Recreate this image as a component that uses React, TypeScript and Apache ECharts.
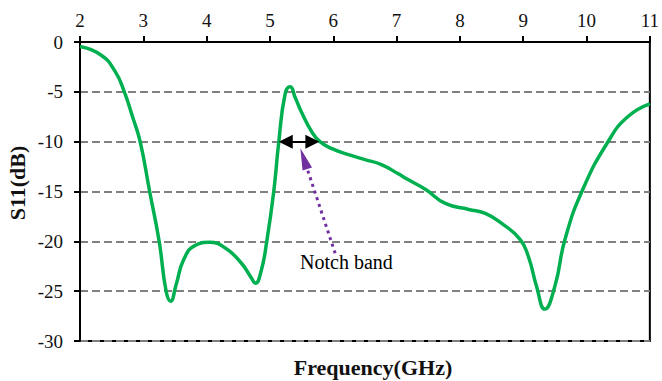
import React, { useEffect, useRef } from "react";
import * as echarts from "echarts";

const freqGHz = [2.0, 2.33, 2.55, 2.7, 2.83, 2.95, 3.1, 3.25, 3.36, 3.43, 3.52, 3.64, 3.82, 4.05, 4.3, 4.55, 4.7, 4.77, 4.86, 4.95, 5.06, 5.14, 5.24, 5.32, 5.4, 5.51, 5.66, 5.79, 5.98, 6.24, 6.5, 6.76, 7.02, 7.18, 7.46, 7.77, 8.14, 8.4, 8.66, 8.95, 9.08, 9.21, 9.34, 9.5, 9.66, 9.94, 10.34, 10.65, 11.0];
const s11dB = [-0.45, -1.3, -2.9, -5.0, -7.5, -10, -15, -20, -25, -26.0, -24.3, -21.8, -20.4, -20.1, -20.7, -22.2, -23.6, -24.2, -23.0, -20.0, -15, -10, -5.2, -4.5, -5.6, -7.2, -9, -10, -10.7, -11.3, -11.8, -12.3, -13.2, -13.8, -14.8, -16.2, -16.8, -17.2, -18.2, -19.8, -21.5, -24.5, -26.8, -24.5, -19.8, -14.8, -10, -7.5, -6.2];

const xTicks = { min: 2, max: 11, step: 1 };
const yTicks = { min: -30, max: 0, step: 5 };

const notchBandFrom = [5.25, -10];
const notchBandTo = [5.67, -10];
const pointerStart = [6.03, -21.2];
const pointerEnd = [5.535, -11.7];

const SERIF = "Liberation Serif";

export default function App() {
  const ref = useRef<HTMLDivElement>(null);
  useEffect(() => {
    document.body.style.margin = "0";
    const chart = echarts.init(ref.current!, null, { renderer: "svg" });
    const data = freqGHz.map((f, i) => [f, s11dB[i]]);
    chart.setOption({
      animation: false,
      backgroundColor: "#fff",
      textStyle: { fontFamily: SERIF },
      grid: {
        left: 80,
        right: 8,
        top: 42,
        bottom: 40,
        show: true,
        borderColor: "#000",
        borderWidth: 2,
        backgroundColor: "transparent",
      },
      xAxis: {
        type: "value",
        position: "top",
        min: xTicks.min,
        max: xTicks.max,
        interval: xTicks.step,
        axisLine: { show: true, onZero: false, lineStyle: { color: "#000", width: 2 } },
        axisTick: { show: true, inside: false, length: 6, lineStyle: { color: "#000", width: 2 } },
        axisLabel: { color: "#111", fontFamily: SERIF, fontSize: 19, margin: 12, showMaxLabel: true, showMinLabel: true },
        splitLine: { show: false },
      },
      yAxis: {
        type: "value",
        min: yTicks.min,
        max: yTicks.max,
        interval: yTicks.step,
        axisLine: { show: true, onZero: false, lineStyle: { color: "#000", width: 2 } },
        axisTick: { show: true, inside: false, length: 6, lineStyle: { color: "#000", width: 2 } },
        axisLabel: { color: "#111", fontFamily: SERIF, fontSize: 19, margin: 17 },
        splitLine: { show: true, lineStyle: { color: "#808080", width: 2, type: [8, 4] } },
      },
      series: [
        {
          type: "line",
          data,
          smooth: 0.5,
          showSymbol: false,
          symbol: "none",
          lineStyle: { color: "#00B050", width: 3.5 },
          z: 3,
          markLine: {
            silent: true,
            animation: false,
            label: { show: false },
            emphasis: { disabled: true },
            data: [
              [
                { coord: notchBandFrom, symbol: "triangle", symbolSize: [14, 14], lineStyle: { color: "#000", width: 2, type: "solid" }, itemStyle: { color: "#000" } },
                { coord: notchBandTo, symbol: "triangle", symbolSize: [14, 14], lineStyle: { color: "#000", width: 2, type: "solid" }, itemStyle: { color: "#000" } },
              ],
              [
                { coord: pointerStart, symbol: "none", lineStyle: { color: "#7030A0", width: 3, type: [3, 4] }, itemStyle: { color: "#7030A0" } },
                { coord: pointerEnd, symbol: "triangle", symbolSize: [10, 22], lineStyle: { color: "#7030A0", width: 3, type: [3, 4] }, itemStyle: { color: "#7030A0" } },
              ],
            ],
          },
        },
      ],
      graphic: [
        {
          type: "text",
          left: 300,
          top: 252,
          style: { text: "Notch band", fontFamily: SERIF, fontSize: 20, fill: "#000" },
        },
        {
          type: "text",
          x: 373,
          y: 367,
          style: { text: "Frequency(GHz)", fontFamily: SERIF, fontSize: 22, fontWeight: "bold", fill: "#111", align: "center", verticalAlign: "middle" },
        },
        {
          type: "text",
          x: 17,
          y: 183,
          rotation: Math.PI / 2,
          style: { text: "S11(dB)", fontFamily: SERIF, fontSize: 22, fontWeight: "bold", fill: "#111", align: "center", verticalAlign: "middle" },
        },
      ],
    });
    return () => chart.dispose();
  }, []);
  return <div ref={ref} style={{ width: 662, height: 381 }} />;
}
